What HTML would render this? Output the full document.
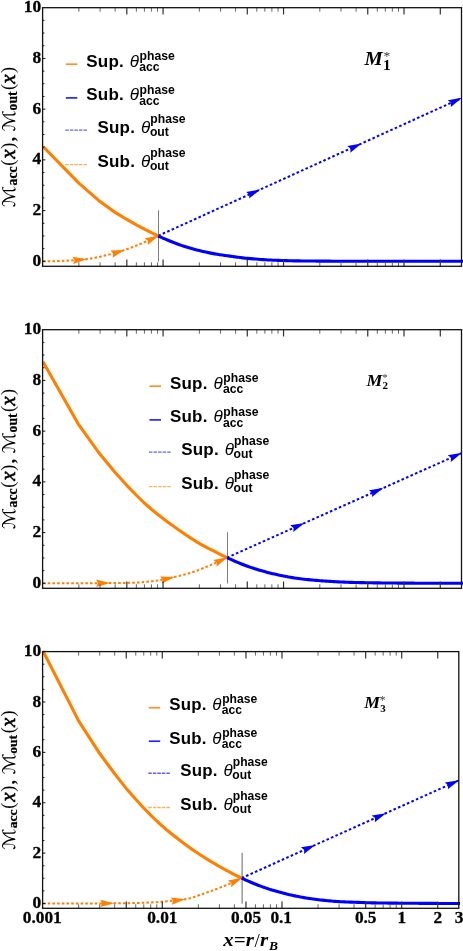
<!DOCTYPE html>
<html><head><meta charset="utf-8"><title>Mach number profiles</title>
<style>
html,body{margin:0;padding:0;background:#fff;}
svg{display:block;will-change:transform;}
text{font-family:"Liberation Serif",serif;fill:#000;}
.tl{font-weight:bold;font-size:17.3px;stroke:#000;stroke-width:0.3px;}
.lg{font-family:"Liberation Sans",sans-serif;font-weight:bold;font-size:17px;letter-spacing:0.2px;}
.th{font-family:"Liberation Sans",sans-serif;font-style:italic;font-size:17px;}
.ss{font-family:"Liberation Sans",sans-serif;font-weight:bold;font-size:12.2px;}
.mm{font-weight:bold;font-style:italic;font-size:18.8px;}
.ms{font-weight:bold;font-size:15.5px;}
.mstar{font-size:13.5px;fill:#333;}
.xt{font-weight:bold;font-style:italic;font-size:18.5px;}
.yb{font-weight:bold;font-size:13.6px;stroke:#000;stroke-width:0.25px;}
.yi{font-style:italic;font-size:21px;stroke:#000;stroke-width:0.6px;}
.yr{font-size:18.4px;}
.ym{font-family:"DejaVu Sans","DejaVu Serif","Liberation Serif",serif;font-size:17.5px;}
</style></head><body>
<svg width="463" height="951" viewBox="0 0 463 951">
<rect width="463" height="951" fill="#fff"/>
<g>
<line x1="158.50" y1="210.28" x2="158.50" y2="261.50" stroke="#6e6e6e" stroke-width="0.9"/>
<polyline points="43.00,261.30 43.97,261.30 44.94,261.29 45.91,261.29 46.88,261.28 47.84,261.27 48.81,261.25 49.78,261.24 50.75,261.22 51.72,261.20 52.69,261.18 53.66,261.16 54.63,261.14 55.60,261.12 56.56,261.09 57.53,261.07 58.50,261.04 59.47,261.01 60.44,260.99 61.41,260.95 62.38,260.91 63.35,260.87 64.32,260.82 65.28,260.76 66.25,260.71 67.22,260.65 68.19,260.58 69.16,260.52 70.13,260.45 71.10,260.38 72.07,260.31 73.04,260.25 74.01,260.18 74.97,260.11 75.94,260.05 76.91,259.98 77.88,259.91 78.85,259.84 79.82,259.77 80.79,259.70 81.76,259.62 82.73,259.53 83.69,259.45 84.66,259.35 85.63,259.25 86.60,259.14 87.57,259.02 88.54,258.89 89.51,258.75 90.48,258.60 91.45,258.43 92.41,258.26 93.38,258.08 94.35,257.90 95.32,257.70 96.29,257.50 97.26,257.30 98.23,257.09 99.20,256.88 100.17,256.66 101.13,256.44 102.10,256.22 103.07,256.00 104.04,255.77 105.01,255.55 105.98,255.33 106.95,255.09 107.92,254.85 108.89,254.61 109.85,254.36 110.82,254.10 111.79,253.84 112.76,253.58 113.73,253.31 114.70,253.03 115.67,252.75 116.64,252.46 117.61,252.18 118.57,251.88 119.54,251.58 120.51,251.28 121.48,250.98 122.45,250.67 123.42,250.35 124.39,250.04 125.36,249.72 126.33,249.38 127.29,249.05 128.26,248.70 129.23,248.35 130.20,247.99 131.17,247.62 132.14,247.25 133.11,246.88 134.08,246.50 135.05,246.11 136.02,245.72 136.98,245.33 137.95,244.94 138.92,244.54 139.89,244.14 140.86,243.74 141.83,243.34 142.80,242.93 143.77,242.53 144.74,242.12 145.70,241.71 146.67,241.30 147.64,240.88 148.61,240.45 149.58,240.02 150.55,239.59 151.52,239.15 152.49,238.71 153.46,238.27 154.42,237.82 155.39,237.37 156.36,236.92 157.33,236.46 158.30,236.00" fill="none" stroke="#ff7f00" stroke-width="2" stroke-dasharray="2.6 2.1"/>
<polyline points="158.30,235.80 461.50,98.10" fill="none" stroke="#0000ff" stroke-width="2" stroke-dasharray="2.6 2.3"/>
<polygon points="86.70,259.15 73.09,264.11 74.75,260.24 72.42,256.74" fill="#ff7f00"/>
<polygon points="124.77,249.92 112.54,257.67 113.33,253.53 110.31,250.61" fill="#ff7f00"/>
<polygon points="158.84,235.75 147.72,245.02 147.97,240.82 144.59,238.31" fill="#ff7f00"/>
<polygon points="260.35,189.46 249.13,198.61 249.42,194.42 246.07,191.88" fill="#0000ff"/>
<polygon points="361.55,143.49 350.33,152.65 350.62,148.46 347.27,145.91" fill="#0000ff"/>
<polygon points="462.05,97.85 450.83,107.01 451.12,102.81 447.77,100.27" fill="#0000ff"/>
<polyline points="43.00,146.50 78.87,183.17 100.08,201.61 115.13,212.38 126.81,219.47 136.35,224.93 144.41,229.14 151.40,232.62 157.56,235.63 158.30,236.00" fill="none" stroke="#ff7f00" stroke-width="3.1" stroke-linejoin="round"/>
<polyline points="158.30,236.00 160.86,237.16 163.42,238.30 165.98,239.42 168.54,240.50 171.10,241.55 173.66,242.55 176.22,243.52 178.78,244.45 181.34,245.35 183.91,246.22 186.47,247.05 189.03,247.85 191.59,248.60 194.15,249.30 196.71,249.96 199.27,250.59 201.83,251.20 204.39,251.78 206.95,252.34 209.51,252.88 212.07,253.39 214.63,253.86 217.19,254.31 219.75,254.71 222.31,255.08 224.87,255.43 227.43,255.77 229.99,256.11 232.55,256.47 235.12,256.85 237.68,257.22 240.24,257.57 242.80,257.90 245.36,258.18 247.92,258.41 250.48,258.64 253.04,258.86 255.60,259.07 258.16,259.26 260.72,259.45 263.28,259.62 265.84,259.78 268.40,259.93 270.96,260.06 273.52,260.18 276.08,260.28 278.64,260.39 281.20,260.48 283.76,260.57 286.33,260.65 288.89,260.73 291.45,260.79 294.01,260.84 296.57,260.89 299.13,260.92 301.69,260.95 304.25,260.97 306.81,261.00 309.37,261.03 311.93,261.05 314.49,261.07 317.05,261.09 319.61,261.11 322.17,261.13 324.73,261.14 327.29,261.16 329.85,261.17 332.41,261.18 334.97,261.19 337.54,261.20 340.10,261.20 342.66,261.20 345.22,261.21 347.78,261.21 350.34,261.22 352.90,261.22 355.46,261.22 358.02,261.23 360.58,261.23 363.14,261.23 365.70,261.24 368.26,261.24 370.82,261.24 373.38,261.25 375.94,261.25 378.50,261.25 381.06,261.26 383.62,261.26 386.18,261.26 388.75,261.26 391.31,261.27 393.87,261.27 396.43,261.27 398.99,261.27 401.55,261.28 404.11,261.28 406.67,261.28 409.23,261.28 411.79,261.28 414.35,261.28 416.91,261.29 419.47,261.29 422.03,261.29 424.59,261.29 427.15,261.29 429.71,261.29 432.27,261.29 434.83,261.30 437.39,261.30 439.96,261.30 442.52,261.30 445.08,261.30 447.64,261.30 450.20,261.30 452.76,261.30 455.32,261.30 457.88,261.30 460.44,261.30 463.00,261.30" fill="none" stroke="#0000ff" stroke-width="3.1" stroke-linejoin="round"/>
<path d="M126.81 266.30v-6.8M126.81 7.70v6.8" stroke="#333" stroke-width="1.2"/>
<path d="M163.07 266.30v-6.8M163.07 7.70v6.8" stroke="#333" stroke-width="1.2"/>
<path d="M247.28 266.30v-6.8M247.28 7.70v6.8" stroke="#333" stroke-width="1.2"/>
<path d="M283.55 266.30v-6.8M283.55 7.70v6.8" stroke="#333" stroke-width="1.2"/>
<path d="M367.75 266.30v-6.8M367.75 7.70v6.8" stroke="#333" stroke-width="1.2"/>
<path d="M404.02 266.30v-6.8M404.02 7.70v6.8" stroke="#333" stroke-width="1.2"/>
<path d="M440.29 266.30v-6.8M440.29 7.70v6.8" stroke="#333" stroke-width="1.2"/>
<path d="M78.87 266.30v-4M78.87 7.70v4" stroke="#555" stroke-width="0.9"/>
<path d="M100.08 266.30v-4M100.08 7.70v4" stroke="#555" stroke-width="0.9"/>
<path d="M115.13 266.30v-4M115.13 7.70v4" stroke="#555" stroke-width="0.9"/>
<path d="M136.35 266.30v-4M136.35 7.70v4" stroke="#555" stroke-width="0.9"/>
<path d="M144.41 266.30v-4M144.41 7.70v4" stroke="#555" stroke-width="0.9"/>
<path d="M151.40 266.30v-4M151.40 7.70v4" stroke="#555" stroke-width="0.9"/>
<path d="M157.56 266.30v-4M157.56 7.70v4" stroke="#555" stroke-width="0.9"/>
<path d="M199.34 266.30v-4M199.34 7.70v4" stroke="#555" stroke-width="0.9"/>
<path d="M220.55 266.30v-4M220.55 7.70v4" stroke="#555" stroke-width="0.9"/>
<path d="M235.61 266.30v-4M235.61 7.70v4" stroke="#555" stroke-width="0.9"/>
<path d="M256.82 266.30v-4M256.82 7.70v4" stroke="#555" stroke-width="0.9"/>
<path d="M264.88 266.30v-4M264.88 7.70v4" stroke="#555" stroke-width="0.9"/>
<path d="M271.87 266.30v-4M271.87 7.70v4" stroke="#555" stroke-width="0.9"/>
<path d="M278.03 266.30v-4M278.03 7.70v4" stroke="#555" stroke-width="0.9"/>
<path d="M319.81 266.30v-4M319.81 7.70v4" stroke="#555" stroke-width="0.9"/>
<path d="M341.03 266.30v-4M341.03 7.70v4" stroke="#555" stroke-width="0.9"/>
<path d="M356.08 266.30v-4M356.08 7.70v4" stroke="#555" stroke-width="0.9"/>
<path d="M377.29 266.30v-4M377.29 7.70v4" stroke="#555" stroke-width="0.9"/>
<path d="M385.36 266.30v-4M385.36 7.70v4" stroke="#555" stroke-width="0.9"/>
<path d="M392.34 266.30v-4M392.34 7.70v4" stroke="#555" stroke-width="0.9"/>
<path d="M398.51 266.30v-4M398.51 7.70v4" stroke="#555" stroke-width="0.9"/>
<path d="M42.60 261.30h2.8" stroke="#111" stroke-width="1"/>
<path d="M42.60 248.62h1.8" stroke="#111" stroke-width="1"/>
<path d="M42.60 235.94h1.8" stroke="#111" stroke-width="1"/>
<path d="M42.60 223.26h1.8" stroke="#111" stroke-width="1"/>
<path d="M42.60 210.58h2.8" stroke="#111" stroke-width="1"/>
<path d="M42.60 197.90h1.8" stroke="#111" stroke-width="1"/>
<path d="M42.60 185.22h1.8" stroke="#111" stroke-width="1"/>
<path d="M42.60 172.54h1.8" stroke="#111" stroke-width="1"/>
<path d="M42.60 159.86h2.8" stroke="#111" stroke-width="1"/>
<path d="M42.60 147.18h1.8" stroke="#111" stroke-width="1"/>
<path d="M42.60 134.50h1.8" stroke="#111" stroke-width="1"/>
<path d="M42.60 121.82h1.8" stroke="#111" stroke-width="1"/>
<path d="M42.60 109.14h2.8" stroke="#111" stroke-width="1"/>
<path d="M42.60 96.46h1.8" stroke="#111" stroke-width="1"/>
<path d="M42.60 83.78h1.8" stroke="#111" stroke-width="1"/>
<path d="M42.60 71.10h1.8" stroke="#111" stroke-width="1"/>
<path d="M42.60 58.42h2.8" stroke="#111" stroke-width="1"/>
<path d="M42.60 45.74h1.8" stroke="#111" stroke-width="1"/>
<path d="M42.60 33.06h1.8" stroke="#111" stroke-width="1"/>
<path d="M42.60 20.38h1.8" stroke="#111" stroke-width="1"/>
<rect x="42.60" y="7.70" width="418.90" height="258.60" fill="none" stroke="#111" stroke-width="1.3"/>
<text x="41.1" y="265.90" text-anchor="end" class="tl" style="font-size:17.4px">0</text>
<text x="41.1" y="215.18" text-anchor="end" class="tl" style="font-size:17.4px">2</text>
<text x="41.1" y="164.46" text-anchor="end" class="tl" style="font-size:17.4px">4</text>
<text x="41.1" y="113.74" text-anchor="end" class="tl" style="font-size:17.4px">6</text>
<text x="41.1" y="63.02" text-anchor="end" class="tl" style="font-size:17.4px">8</text>
<text x="41.1" y="12.30" text-anchor="end" class="tl" style="font-size:17.4px">10</text>
<g transform="translate(14.6 207.00) scale(1.0000) rotate(-90)">
<text x="0" y="0" class="ym" textLength="21.4" lengthAdjust="spacingAndGlyphs">ℳ</text><text x="21.6" y="2.7" class="yb">acc</text><text x="41.2" y="-0.7" class="yr">(</text><text x="48.2" y="0" class="yi">x</text><text x="58.2" y="-0.7" class="yr">)</text><text x="65.6" y="0" class="yr" font-weight="bold">,</text>
<text x="75.8" y="0" class="ym" textLength="21.4" lengthAdjust="spacingAndGlyphs">ℳ</text><text x="96.6" y="2.7" class="yb">out</text><text x="117.0" y="-0.7" class="yr">(</text><text x="123.3" y="0" class="yi">x</text><text x="134.0" y="-0.7" class="yr">)</text>
</g>
<g transform="translate(42.60 7.70) scale(1.0000) translate(-42.60 -7.70)">
<line x1="65.8" y1="64.2" x2="77.3" y2="64.2" stroke="#ff7f00" stroke-width="1.7" opacity="0.85"/>
<text x="86.3" y="66.6" class="lg">Sup.</text>
<text x="129.7" y="66.6" class="th">θ</text>
<text x="139.6" y="59.8" class="ss">phase</text>
<text x="139.2" y="71.0" class="ss">acc</text>
<line x1="65.8" y1="97.9" x2="77.3" y2="97.9" stroke="#0000ff" stroke-width="1.7" opacity="0.85"/>
<text x="86.3" y="100.3" class="lg">Sub.</text>
<text x="129.7" y="100.3" class="th">θ</text>
<text x="139.6" y="93.5" class="ss">phase</text>
<text x="139.2" y="104.7" class="ss">acc</text>
<line x1="65.3" y1="130.1" x2="87.7" y2="130.1" stroke="#0000ff" stroke-width="1.4" stroke-dasharray="3.5 1.05" opacity="0.62"/>
<text x="97.5" y="132.5" class="lg">Sup.</text>
<text x="141.0" y="132.5" class="th">θ</text>
<text x="150.3" y="122.5" class="ss">phase</text>
<text x="149.9" y="135.9" class="ss">out</text>
<line x1="65.3" y1="164.6" x2="87.7" y2="164.6" stroke="#ff7f00" stroke-width="1.4" stroke-dasharray="3.5 1.05" opacity="0.62"/>
<text x="97.5" y="167.0" class="lg">Sub.</text>
<text x="141.0" y="167.0" class="th">θ</text>
<text x="150.3" y="157.0" class="ss">phase</text>
<text x="149.9" y="170.4" class="ss">out</text>
<text transform="translate(364.4 64.8) scale(1.09 1)" class="mm">M</text>
<text x="382.9" y="69.8" class="ms">1</text>
<text x="383.6" y="60.2" class="mstar">*</text>
</g>
</g>
<g>
<line x1="227.50" y1="532.28" x2="227.50" y2="583.50" stroke="#6e6e6e" stroke-width="0.9"/>
<polyline points="43.00,583.30 44.55,583.30 46.09,583.30 47.64,583.30 49.18,583.30 50.73,583.30 52.28,583.30 53.82,583.29 55.37,583.29 56.92,583.29 58.46,583.29 60.01,583.29 61.55,583.28 63.10,583.28 64.65,583.28 66.19,583.27 67.74,583.27 69.29,583.27 70.83,583.26 72.38,583.26 73.92,583.26 75.47,583.25 77.02,583.25 78.56,583.24 80.11,583.24 81.66,583.23 83.20,583.23 84.75,583.22 86.29,583.21 87.84,583.21 89.39,583.20 90.93,583.19 92.48,583.19 94.03,583.18 95.57,583.17 97.12,583.17 98.66,583.16 100.21,583.15 101.76,583.14 103.30,583.14 104.85,583.13 106.39,583.12 107.94,583.11 109.49,583.10 111.03,583.09 112.58,583.08 114.13,583.07 115.67,583.05 117.22,583.03 118.76,583.01 120.31,582.99 121.86,582.97 123.40,582.94 124.95,582.91 126.50,582.88 128.04,582.85 129.59,582.81 131.13,582.77 132.68,582.72 134.23,582.65 135.77,582.58 137.32,582.50 138.87,582.40 140.41,582.30 141.96,582.19 143.50,582.07 145.05,581.94 146.60,581.81 148.14,581.67 149.69,581.52 151.24,581.37 152.78,581.21 154.33,581.04 155.87,580.85 157.42,580.62 158.97,580.36 160.51,580.08 162.06,579.77 163.61,579.45 165.15,579.11 166.70,578.76 168.24,578.40 169.79,578.04 171.34,577.68 172.88,577.33 174.43,576.98 175.97,576.63 177.52,576.28 179.07,575.92 180.61,575.55 182.16,575.17 183.71,574.78 185.25,574.38 186.80,573.95 188.34,573.51 189.89,573.05 191.44,572.56 192.98,572.05 194.53,571.50 196.08,570.94 197.62,570.36 199.17,569.76 200.71,569.15 202.26,568.53 203.81,567.89 205.35,567.26 206.90,566.62 208.45,565.98 209.99,565.34 211.54,564.68 213.08,564.02 214.63,563.34 216.18,562.66 217.72,561.96 219.27,561.26 220.82,560.55 222.36,559.82 223.91,559.09 225.45,558.35 227.00,557.60" fill="none" stroke="#ff7f00" stroke-width="2" stroke-dasharray="2.6 2.1"/>
<polyline points="227.00,557.60 461.50,453.10" fill="none" stroke="#0000ff" stroke-width="2" stroke-dasharray="2.6 2.3"/>
<polygon points="110.10,583.10 96.12,586.88 98.10,583.16 96.08,579.48" fill="#ff7f00"/>
<polygon points="174.58,576.94 161.77,583.69 162.89,579.64 160.11,576.48" fill="#ff7f00"/>
<polygon points="227.54,557.34 216.50,566.71 216.71,562.51 213.31,560.03" fill="#ff7f00"/>
<polygon points="304.55,523.04 293.27,532.12 293.59,527.93 290.25,525.36" fill="#0000ff"/>
<polygon points="383.25,487.97 371.97,497.05 372.29,492.86 368.95,490.29" fill="#0000ff"/>
<polygon points="462.05,452.86 450.77,461.93 451.09,457.74 447.75,455.17" fill="#0000ff"/>
<polyline points="43.00,361.70 78.87,424.95 100.08,454.31 115.13,472.53 126.81,485.33 136.35,495.24 144.41,503.03 151.40,509.24 157.56,514.29 163.07,518.57 168.06,522.30 172.61,525.59 176.80,528.54 180.68,531.21 184.29,533.69 187.66,535.99 190.84,538.12 193.83,540.06 196.66,541.83 199.34,543.43 201.89,544.87 204.33,546.19 206.65,547.42 208.88,548.58 211.01,549.67 213.07,550.72 215.04,551.74 216.94,552.72 218.78,553.64 220.55,554.52 222.27,555.35 223.93,556.15 225.54,556.91 227.00,557.60" fill="none" stroke="#ff7f00" stroke-width="3.1" stroke-linejoin="round"/>
<polyline points="227.00,557.60 228.98,558.54 230.97,559.46 232.95,560.36 234.93,561.23 236.92,562.09 238.90,562.92 240.88,563.72 242.87,564.50 244.85,565.26 246.83,566.00 248.82,566.72 250.80,567.41 252.78,568.07 254.76,568.71 256.75,569.33 258.73,569.93 260.71,570.51 262.70,571.06 264.68,571.61 266.66,572.13 268.65,572.65 270.63,573.15 272.61,573.64 274.60,574.11 276.58,574.56 278.56,574.99 280.55,575.41 282.53,575.81 284.51,576.20 286.50,576.58 288.48,576.94 290.46,577.29 292.45,577.62 294.43,577.93 296.41,578.22 298.39,578.49 300.38,578.75 302.36,579.00 304.34,579.23 306.33,579.45 308.31,579.66 310.29,579.86 312.28,580.05 314.26,580.22 316.24,580.39 318.23,580.55 320.21,580.70 322.19,580.85 324.18,580.99 326.16,581.12 328.14,581.26 330.13,581.39 332.11,581.52 334.09,581.64 336.08,581.76 338.06,581.86 340.04,581.96 342.03,582.04 344.01,582.12 345.99,582.20 347.97,582.27 349.96,582.34 351.94,582.40 353.92,582.46 355.91,582.51 357.89,582.56 359.87,582.60 361.86,582.63 363.84,582.67 365.82,582.71 367.81,582.74 369.79,582.77 371.77,582.80 373.76,582.83 375.74,582.86 377.72,582.89 379.71,582.91 381.69,582.94 383.67,582.96 385.66,582.98 387.64,583.00 389.62,583.02 391.61,583.04 393.59,583.06 395.57,583.07 397.55,583.09 399.54,583.10 401.52,583.11 403.50,583.12 405.49,583.13 407.47,583.14 409.45,583.15 411.44,583.16 413.42,583.17 415.40,583.18 417.39,583.19 419.37,583.19 421.35,583.20 423.34,583.21 425.32,583.22 427.30,583.23 429.29,583.23 431.27,583.24 433.25,583.25 435.24,583.25 437.22,583.26 439.20,583.27 441.18,583.27 443.17,583.28 445.15,583.28 447.13,583.28 449.12,583.29 451.10,583.29 453.08,583.29 455.07,583.30 457.05,583.30 459.03,583.30 461.02,583.30 463.00,583.30" fill="none" stroke="#0000ff" stroke-width="3.1" stroke-linejoin="round"/>
<path d="M126.81 588.30v-6.8M126.81 329.70v6.8" stroke="#333" stroke-width="1.2"/>
<path d="M163.07 588.30v-6.8M163.07 329.70v6.8" stroke="#333" stroke-width="1.2"/>
<path d="M247.28 588.30v-6.8M247.28 329.70v6.8" stroke="#333" stroke-width="1.2"/>
<path d="M283.55 588.30v-6.8M283.55 329.70v6.8" stroke="#333" stroke-width="1.2"/>
<path d="M367.75 588.30v-6.8M367.75 329.70v6.8" stroke="#333" stroke-width="1.2"/>
<path d="M404.02 588.30v-6.8M404.02 329.70v6.8" stroke="#333" stroke-width="1.2"/>
<path d="M440.29 588.30v-6.8M440.29 329.70v6.8" stroke="#333" stroke-width="1.2"/>
<path d="M78.87 588.30v-4M78.87 329.70v4" stroke="#555" stroke-width="0.9"/>
<path d="M100.08 588.30v-4M100.08 329.70v4" stroke="#555" stroke-width="0.9"/>
<path d="M115.13 588.30v-4M115.13 329.70v4" stroke="#555" stroke-width="0.9"/>
<path d="M136.35 588.30v-4M136.35 329.70v4" stroke="#555" stroke-width="0.9"/>
<path d="M144.41 588.30v-4M144.41 329.70v4" stroke="#555" stroke-width="0.9"/>
<path d="M151.40 588.30v-4M151.40 329.70v4" stroke="#555" stroke-width="0.9"/>
<path d="M157.56 588.30v-4M157.56 329.70v4" stroke="#555" stroke-width="0.9"/>
<path d="M199.34 588.30v-4M199.34 329.70v4" stroke="#555" stroke-width="0.9"/>
<path d="M220.55 588.30v-4M220.55 329.70v4" stroke="#555" stroke-width="0.9"/>
<path d="M235.61 588.30v-4M235.61 329.70v4" stroke="#555" stroke-width="0.9"/>
<path d="M256.82 588.30v-4M256.82 329.70v4" stroke="#555" stroke-width="0.9"/>
<path d="M264.88 588.30v-4M264.88 329.70v4" stroke="#555" stroke-width="0.9"/>
<path d="M271.87 588.30v-4M271.87 329.70v4" stroke="#555" stroke-width="0.9"/>
<path d="M278.03 588.30v-4M278.03 329.70v4" stroke="#555" stroke-width="0.9"/>
<path d="M319.81 588.30v-4M319.81 329.70v4" stroke="#555" stroke-width="0.9"/>
<path d="M341.03 588.30v-4M341.03 329.70v4" stroke="#555" stroke-width="0.9"/>
<path d="M356.08 588.30v-4M356.08 329.70v4" stroke="#555" stroke-width="0.9"/>
<path d="M377.29 588.30v-4M377.29 329.70v4" stroke="#555" stroke-width="0.9"/>
<path d="M385.36 588.30v-4M385.36 329.70v4" stroke="#555" stroke-width="0.9"/>
<path d="M392.34 588.30v-4M392.34 329.70v4" stroke="#555" stroke-width="0.9"/>
<path d="M398.51 588.30v-4M398.51 329.70v4" stroke="#555" stroke-width="0.9"/>
<path d="M42.60 583.30h2.8" stroke="#111" stroke-width="1"/>
<path d="M42.60 570.62h1.8" stroke="#111" stroke-width="1"/>
<path d="M42.60 557.94h1.8" stroke="#111" stroke-width="1"/>
<path d="M42.60 545.26h1.8" stroke="#111" stroke-width="1"/>
<path d="M42.60 532.58h2.8" stroke="#111" stroke-width="1"/>
<path d="M42.60 519.90h1.8" stroke="#111" stroke-width="1"/>
<path d="M42.60 507.22h1.8" stroke="#111" stroke-width="1"/>
<path d="M42.60 494.54h1.8" stroke="#111" stroke-width="1"/>
<path d="M42.60 481.86h2.8" stroke="#111" stroke-width="1"/>
<path d="M42.60 469.18h1.8" stroke="#111" stroke-width="1"/>
<path d="M42.60 456.50h1.8" stroke="#111" stroke-width="1"/>
<path d="M42.60 443.82h1.8" stroke="#111" stroke-width="1"/>
<path d="M42.60 431.14h2.8" stroke="#111" stroke-width="1"/>
<path d="M42.60 418.46h1.8" stroke="#111" stroke-width="1"/>
<path d="M42.60 405.78h1.8" stroke="#111" stroke-width="1"/>
<path d="M42.60 393.10h1.8" stroke="#111" stroke-width="1"/>
<path d="M42.60 380.42h2.8" stroke="#111" stroke-width="1"/>
<path d="M42.60 367.74h1.8" stroke="#111" stroke-width="1"/>
<path d="M42.60 355.06h1.8" stroke="#111" stroke-width="1"/>
<path d="M42.60 342.38h1.8" stroke="#111" stroke-width="1"/>
<rect x="42.60" y="329.70" width="418.90" height="258.60" fill="none" stroke="#111" stroke-width="1.3"/>
<text x="41.1" y="587.90" text-anchor="end" class="tl" style="font-size:17.4px">0</text>
<text x="41.1" y="537.18" text-anchor="end" class="tl" style="font-size:17.4px">2</text>
<text x="41.1" y="486.46" text-anchor="end" class="tl" style="font-size:17.4px">4</text>
<text x="41.1" y="435.74" text-anchor="end" class="tl" style="font-size:17.4px">6</text>
<text x="41.1" y="385.02" text-anchor="end" class="tl" style="font-size:17.4px">8</text>
<text x="41.1" y="334.30" text-anchor="end" class="tl" style="font-size:17.4px">10</text>
<g transform="translate(14.6 529.00) scale(1.0000) rotate(-90)">
<text x="0" y="0" class="ym" textLength="21.4" lengthAdjust="spacingAndGlyphs">ℳ</text><text x="21.6" y="2.7" class="yb">acc</text><text x="41.2" y="-0.7" class="yr">(</text><text x="48.2" y="0" class="yi">x</text><text x="58.2" y="-0.7" class="yr">)</text><text x="65.6" y="0" class="yr" font-weight="bold">,</text>
<text x="75.8" y="0" class="ym" textLength="21.4" lengthAdjust="spacingAndGlyphs">ℳ</text><text x="96.6" y="2.7" class="yb">out</text><text x="117.0" y="-0.7" class="yr">(</text><text x="123.3" y="0" class="yi">x</text><text x="134.0" y="-0.7" class="yr">)</text>
</g>
<g transform="translate(42.60 329.70) scale(1.0000) translate(-42.60 -329.70)">
<line x1="149.5" y1="386.2" x2="161.0" y2="386.2" stroke="#ff7f00" stroke-width="1.7" opacity="0.85"/>
<text x="170.0" y="388.6" class="lg">Sup.</text>
<text x="213.4" y="388.6" class="th">θ</text>
<text x="223.3" y="381.8" class="ss">phase</text>
<text x="222.9" y="393.0" class="ss">acc</text>
<line x1="149.5" y1="419.9" x2="161.0" y2="419.9" stroke="#0000ff" stroke-width="1.7" opacity="0.85"/>
<text x="170.0" y="422.3" class="lg">Sub.</text>
<text x="213.4" y="422.3" class="th">θ</text>
<text x="223.3" y="415.5" class="ss">phase</text>
<text x="222.9" y="426.7" class="ss">acc</text>
<line x1="149.0" y1="452.1" x2="171.4" y2="452.1" stroke="#0000ff" stroke-width="1.4" stroke-dasharray="3.5 1.05" opacity="0.62"/>
<text x="181.2" y="454.5" class="lg">Sup.</text>
<text x="224.7" y="454.5" class="th">θ</text>
<text x="234.0" y="444.5" class="ss">phase</text>
<text x="233.6" y="457.9" class="ss">out</text>
<line x1="149.0" y1="486.6" x2="171.4" y2="486.6" stroke="#ff7f00" stroke-width="1.4" stroke-dasharray="3.5 1.05" opacity="0.62"/>
<text x="181.2" y="489.0" class="lg">Sub.</text>
<text x="224.7" y="489.0" class="th">θ</text>
<text x="234.0" y="479.0" class="ss">phase</text>
<text x="233.6" y="492.4" class="ss">out</text>
<text transform="translate(366.4 386.0) scale(1.07 1)" class="mm" style="font-size:16.7px">M</text>
<text x="382.4" y="389.4" class="ms" style="font-size:11px">2</text>
<text x="382.4" y="381.4" class="mstar" style="font-size:10px">*</text>
</g>
</g>
<g>
<line x1="242.10" y1="852.82" x2="242.10" y2="903.70" stroke="#666" stroke-width="1.0"/>
<polyline points="43.00,903.50 44.67,903.50 46.34,903.50 48.01,903.50 49.68,903.50 51.34,903.50 53.01,903.50 54.68,903.50 56.35,903.49 58.02,903.49 59.69,903.49 61.36,903.49 63.03,903.49 64.70,903.49 66.36,903.48 68.03,903.48 69.70,903.48 71.37,903.47 73.04,903.47 74.71,903.47 76.38,903.46 78.05,903.46 79.72,903.46 81.38,903.45 83.05,903.45 84.72,903.44 86.39,903.44 88.06,903.43 89.73,903.43 91.40,903.42 93.07,903.42 94.74,903.41 96.41,903.41 98.07,903.40 99.74,903.39 101.41,903.39 103.08,903.38 104.75,903.37 106.42,903.37 108.09,903.36 109.76,903.35 111.43,903.34 113.09,903.34 114.76,903.33 116.43,903.32 118.10,903.31 119.77,903.30 121.44,903.29 123.11,903.27 124.78,903.25 126.45,903.23 128.11,903.20 129.78,903.16 131.45,903.12 133.12,903.08 134.79,903.04 136.46,903.00 138.13,902.95 139.80,902.91 141.47,902.86 143.13,902.80 144.80,902.74 146.47,902.67 148.14,902.59 149.81,902.51 151.48,902.43 153.15,902.34 154.82,902.25 156.49,902.15 158.15,902.04 159.82,901.92 161.49,901.79 163.16,901.65 164.83,901.50 166.50,901.35 168.17,901.19 169.84,901.02 171.51,900.85 173.17,900.68 174.84,900.51 176.51,900.34 178.18,900.17 179.85,899.98 181.52,899.77 183.19,899.55 184.86,899.30 186.53,899.00 188.19,898.64 189.86,898.22 191.53,897.76 193.20,897.25 194.87,896.71 196.54,896.14 198.21,895.55 199.88,894.96 201.55,894.37 203.22,893.79 204.88,893.22 206.55,892.65 208.22,892.06 209.89,891.46 211.56,890.85 213.23,890.22 214.90,889.59 216.57,888.95 218.24,888.30 219.90,887.65 221.57,887.01 223.24,886.36 224.91,885.72 226.58,885.05 228.25,884.36 229.92,883.63 231.59,882.89 233.26,882.12 234.92,881.33 236.59,880.53 238.26,879.73 239.93,878.91 241.60,878.10" fill="none" stroke="#ff7f00" stroke-width="2" stroke-dasharray="2.6 2.1"/>
<polyline points="241.60,878.10 458.60,780.50" fill="none" stroke="#0000ff" stroke-width="2" stroke-dasharray="2.6 2.3"/>
<polygon points="114.20,903.33 100.22,907.10 102.20,903.39 100.18,899.70" fill="#ff7f00"/>
<polygon points="185.19,899.26 171.79,904.74 173.30,900.81 170.83,897.40" fill="#ff7f00"/>
<polygon points="242.14,877.84 231.16,887.28 231.34,883.07 227.93,880.62" fill="#ff7f00"/>
<polygon points="315.25,844.98 304.00,854.09 304.30,849.90 300.96,847.34" fill="#0000ff"/>
<polygon points="386.05,813.13 374.80,822.25 375.10,818.05 371.76,815.50" fill="#0000ff"/>
<polygon points="459.15,780.25 447.90,789.37 448.20,785.18 444.86,782.62" fill="#0000ff"/>
<polyline points="43.00,651.00 78.63,720.88 99.71,753.54 114.66,773.77 126.26,788.40 135.74,799.29 143.76,808.00 150.70,815.06 156.82,821.00 162.30,826.03 167.25,830.30 171.77,834.00 175.94,837.32 179.79,840.30 183.37,843.02 186.73,845.50 189.88,847.77 192.85,849.86 195.66,851.78 198.33,853.56 200.87,855.22 203.28,856.77 205.59,858.23 207.81,859.60 209.93,860.89 211.97,862.12 213.93,863.29 215.82,864.41 217.64,865.48 219.41,866.49 221.11,867.46 222.76,868.38 224.36,869.27 225.91,870.11 227.42,870.92 228.88,871.70 230.31,872.45 231.69,873.17 233.05,873.87 234.36,874.54 235.64,875.18 236.90,875.81 238.12,876.41 239.32,877.00 240.48,877.56 241.60,878.10" fill="none" stroke="#ff7f00" stroke-width="3.1" stroke-linejoin="round"/>
<polyline points="241.60,878.10 243.44,878.97 245.27,879.81 247.11,880.64 248.94,881.45 250.78,882.24 252.61,883.01 254.45,883.77 256.28,884.50 258.12,885.22 259.95,885.91 261.79,886.59 263.62,887.25 265.46,887.89 267.29,888.51 269.13,889.11 270.96,889.69 272.80,890.25 274.64,890.79 276.47,891.32 278.31,891.83 280.14,892.33 281.98,892.82 283.81,893.29 285.65,893.75 287.48,894.21 289.32,894.64 291.15,895.06 292.99,895.47 294.82,895.86 296.66,896.24 298.49,896.60 300.33,896.96 302.16,897.30 304.00,897.64 305.84,897.95 307.67,898.26 309.51,898.54 311.34,898.81 313.18,899.06 315.01,899.30 316.85,899.53 318.68,899.75 320.52,899.96 322.35,900.16 324.19,900.35 326.02,900.53 327.86,900.70 329.69,900.87 331.53,901.04 333.36,901.19 335.20,901.33 337.04,901.47 338.87,901.59 340.71,901.70 342.54,901.79 344.38,901.87 346.21,901.95 348.05,902.02 349.88,902.09 351.72,902.15 353.55,902.22 355.39,902.28 357.22,902.34 359.06,902.41 360.89,902.48 362.73,902.55 364.56,902.61 366.40,902.68 368.24,902.74 370.07,902.79 371.91,902.84 373.74,902.88 375.58,902.91 377.41,902.94 379.25,902.96 381.08,902.99 382.92,903.02 384.75,903.04 386.59,903.06 388.42,903.08 390.26,903.10 392.09,903.12 393.93,903.14 395.76,903.16 397.60,903.17 399.44,903.19 401.27,903.20 403.11,903.22 404.94,903.23 406.78,903.25 408.61,903.26 410.45,903.27 412.28,903.28 414.12,903.29 415.95,903.31 417.79,903.32 419.62,903.33 421.46,903.34 423.29,903.35 425.13,903.36 426.96,903.37 428.80,903.38 430.64,903.39 432.47,903.40 434.31,903.41 436.14,903.42 437.98,903.43 439.81,903.44 441.65,903.45 443.48,903.45 445.32,903.46 447.15,903.47 448.99,903.47 450.82,903.48 452.66,903.48 454.49,903.49 456.33,903.49 458.16,903.50 460.00,903.50" fill="none" stroke="#0000ff" stroke-width="3.1" stroke-linejoin="round"/>
<path d="M126.26 908.30v-6.8M126.26 651.60v6.8" stroke="#333" stroke-width="1.2"/>
<path d="M162.30 908.30v-6.8M162.30 651.60v6.8" stroke="#333" stroke-width="1.2"/>
<path d="M245.96 908.30v-6.8M245.96 651.60v6.8" stroke="#333" stroke-width="1.2"/>
<path d="M281.99 908.30v-6.8M281.99 651.60v6.8" stroke="#333" stroke-width="1.2"/>
<path d="M365.66 908.30v-6.8M365.66 651.60v6.8" stroke="#333" stroke-width="1.2"/>
<path d="M401.69 908.30v-6.8M401.69 651.60v6.8" stroke="#333" stroke-width="1.2"/>
<path d="M437.72 908.30v-6.8M437.72 651.60v6.8" stroke="#333" stroke-width="1.2"/>
<path d="M78.63 908.30v-4M78.63 651.60v4" stroke="#555" stroke-width="0.9"/>
<path d="M99.71 908.30v-4M99.71 651.60v4" stroke="#555" stroke-width="0.9"/>
<path d="M114.66 908.30v-4M114.66 651.60v4" stroke="#555" stroke-width="0.9"/>
<path d="M135.74 908.30v-4M135.74 651.60v4" stroke="#555" stroke-width="0.9"/>
<path d="M143.76 908.30v-4M143.76 651.60v4" stroke="#555" stroke-width="0.9"/>
<path d="M150.70 908.30v-4M150.70 651.60v4" stroke="#555" stroke-width="0.9"/>
<path d="M156.82 908.30v-4M156.82 651.60v4" stroke="#555" stroke-width="0.9"/>
<path d="M198.33 908.30v-4M198.33 651.60v4" stroke="#555" stroke-width="0.9"/>
<path d="M219.41 908.30v-4M219.41 651.60v4" stroke="#555" stroke-width="0.9"/>
<path d="M234.36 908.30v-4M234.36 651.60v4" stroke="#555" stroke-width="0.9"/>
<path d="M255.44 908.30v-4M255.44 651.60v4" stroke="#555" stroke-width="0.9"/>
<path d="M263.45 908.30v-4M263.45 651.60v4" stroke="#555" stroke-width="0.9"/>
<path d="M270.39 908.30v-4M270.39 651.60v4" stroke="#555" stroke-width="0.9"/>
<path d="M276.52 908.30v-4M276.52 651.60v4" stroke="#555" stroke-width="0.9"/>
<path d="M318.03 908.30v-4M318.03 651.60v4" stroke="#555" stroke-width="0.9"/>
<path d="M339.10 908.30v-4M339.10 651.60v4" stroke="#555" stroke-width="0.9"/>
<path d="M354.06 908.30v-4M354.06 651.60v4" stroke="#555" stroke-width="0.9"/>
<path d="M375.14 908.30v-4M375.14 651.60v4" stroke="#555" stroke-width="0.9"/>
<path d="M383.15 908.30v-4M383.15 651.60v4" stroke="#555" stroke-width="0.9"/>
<path d="M390.09 908.30v-4M390.09 651.60v4" stroke="#555" stroke-width="0.9"/>
<path d="M396.21 908.30v-4M396.21 651.60v4" stroke="#555" stroke-width="0.9"/>
<path d="M42.60 903.50h2.8" stroke="#111" stroke-width="1"/>
<path d="M42.60 890.90h1.8" stroke="#111" stroke-width="1"/>
<path d="M42.60 878.31h1.8" stroke="#111" stroke-width="1"/>
<path d="M42.60 865.72h1.8" stroke="#111" stroke-width="1"/>
<path d="M42.60 853.12h2.8" stroke="#111" stroke-width="1"/>
<path d="M42.60 840.52h1.8" stroke="#111" stroke-width="1"/>
<path d="M42.60 827.93h1.8" stroke="#111" stroke-width="1"/>
<path d="M42.60 815.34h1.8" stroke="#111" stroke-width="1"/>
<path d="M42.60 802.74h2.8" stroke="#111" stroke-width="1"/>
<path d="M42.60 790.14h1.8" stroke="#111" stroke-width="1"/>
<path d="M42.60 777.55h1.8" stroke="#111" stroke-width="1"/>
<path d="M42.60 764.96h1.8" stroke="#111" stroke-width="1"/>
<path d="M42.60 752.36h2.8" stroke="#111" stroke-width="1"/>
<path d="M42.60 739.76h1.8" stroke="#111" stroke-width="1"/>
<path d="M42.60 727.17h1.8" stroke="#111" stroke-width="1"/>
<path d="M42.60 714.58h1.8" stroke="#111" stroke-width="1"/>
<path d="M42.60 701.98h2.8" stroke="#111" stroke-width="1"/>
<path d="M42.60 689.38h1.8" stroke="#111" stroke-width="1"/>
<path d="M42.60 676.79h1.8" stroke="#111" stroke-width="1"/>
<path d="M42.60 664.20h1.8" stroke="#111" stroke-width="1"/>
<rect x="42.60" y="651.60" width="416.20" height="256.70" fill="none" stroke="#111" stroke-width="1.3"/>
<text x="41.1" y="908.10" text-anchor="end" class="tl" style="font-size:17.4px">0</text>
<text x="41.1" y="857.72" text-anchor="end" class="tl" style="font-size:17.4px">2</text>
<text x="41.1" y="807.34" text-anchor="end" class="tl" style="font-size:17.4px">4</text>
<text x="41.1" y="756.96" text-anchor="end" class="tl" style="font-size:17.4px">6</text>
<text x="41.1" y="706.58" text-anchor="end" class="tl" style="font-size:17.4px">8</text>
<text x="41.1" y="656.20" text-anchor="end" class="tl" style="font-size:17.4px">10</text>
<g transform="translate(14.6 849.62) scale(0.9936) rotate(-90)">
<text x="0" y="0" class="ym" textLength="21.4" lengthAdjust="spacingAndGlyphs">ℳ</text><text x="21.6" y="2.7" class="yb">acc</text><text x="41.2" y="-0.7" class="yr">(</text><text x="48.2" y="0" class="yi">x</text><text x="58.2" y="-0.7" class="yr">)</text><text x="65.6" y="0" class="yr" font-weight="bold">,</text>
<text x="75.8" y="0" class="ym" textLength="21.4" lengthAdjust="spacingAndGlyphs">ℳ</text><text x="96.6" y="2.7" class="yb">out</text><text x="117.0" y="-0.7" class="yr">(</text><text x="123.3" y="0" class="yi">x</text><text x="134.0" y="-0.7" class="yr">)</text>
</g>
<g transform="translate(42.60 651.60) scale(0.9936) translate(-42.60 -651.60)">
<line x1="149.5" y1="708.1" x2="161.0" y2="708.1" stroke="#ff7f00" stroke-width="1.7" opacity="0.85"/>
<text x="170.0" y="710.5" class="lg">Sup.</text>
<text x="213.4" y="710.5" class="th">θ</text>
<text x="223.3" y="703.7" class="ss">phase</text>
<text x="222.9" y="714.9" class="ss">acc</text>
<line x1="149.5" y1="741.8" x2="161.0" y2="741.8" stroke="#0000ff" stroke-width="1.7" opacity="0.85"/>
<text x="170.0" y="744.2" class="lg">Sub.</text>
<text x="213.4" y="744.2" class="th">θ</text>
<text x="223.3" y="737.4" class="ss">phase</text>
<text x="222.9" y="748.6" class="ss">acc</text>
<line x1="149.0" y1="774.0" x2="171.4" y2="774.0" stroke="#0000ff" stroke-width="1.4" stroke-dasharray="3.5 1.05" opacity="0.62"/>
<text x="181.2" y="776.4" class="lg">Sup.</text>
<text x="224.7" y="776.4" class="th">θ</text>
<text x="234.0" y="766.4" class="ss">phase</text>
<text x="233.6" y="779.8" class="ss">out</text>
<line x1="149.0" y1="808.5" x2="171.4" y2="808.5" stroke="#ff7f00" stroke-width="1.4" stroke-dasharray="3.5 1.05" opacity="0.62"/>
<text x="181.2" y="810.9" class="lg">Sub.</text>
<text x="224.7" y="810.9" class="th">θ</text>
<text x="234.0" y="800.9" class="ss">phase</text>
<text x="233.6" y="814.3" class="ss">out</text>
<text transform="translate(366.4 707.9) scale(1.07 1)" class="mm" style="font-size:16.7px">M</text>
<text x="382.4" y="712.2" class="ms" style="font-size:11px">3</text>
<text x="382.0" y="704.3" class="mstar" style="font-size:11.5px">*</text>
</g>
</g>
<text x="42.3" y="923.1" text-anchor="middle" class="tl">0.001</text>
<text x="162.3" y="923.1" text-anchor="middle" class="tl">0.01</text>
<text x="246.0" y="923.1" text-anchor="middle" class="tl">0.05</text>
<text x="281.2" y="923.1" text-anchor="middle" class="tl">0.1</text>
<text x="365.7" y="923.1" text-anchor="middle" class="tl">0.5</text>
<text x="401.7" y="923.1" text-anchor="middle" class="tl">1</text>
<text x="437.7" y="923.1" text-anchor="middle" class="tl">2</text>
<text x="459.1" y="923.1" text-anchor="middle" class="tl">3</text>
<text transform="translate(223.3 946.2) scale(1.13 1)" class="xt">x=r</text>
<text x="254.6" y="946.6" class="xt" style="font-style:normal;font-weight:normal;font-size:19px">/</text>
<text transform="translate(260.1 946.2) scale(1.13 1)" class="xt">r</text>
<text transform="translate(268.9 950.0) scale(1.1 1)" class="xt" style="font-size:12.3px">B</text>
</svg>
</body></html>
